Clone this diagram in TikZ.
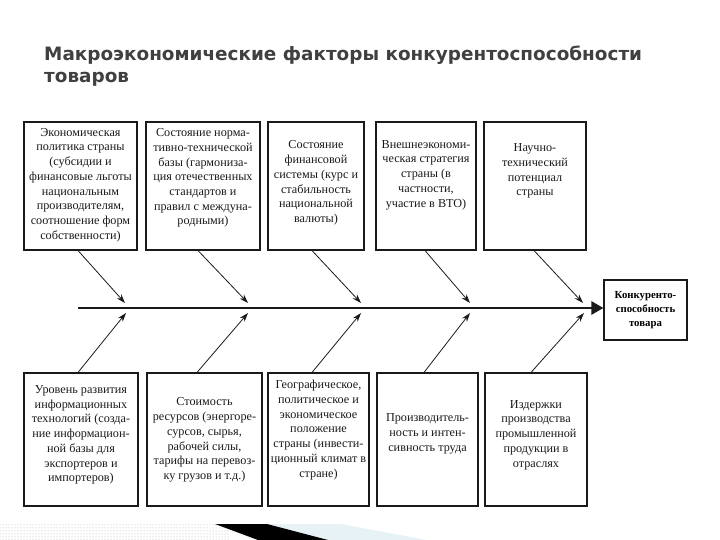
\documentclass[tikz,border=0pt]{standalone}
\usepackage{fontspec}
\setmainfont{Liberation Serif}
\newfontfamily\titlefont{DejaVu Sans}
\usetikzlibrary{arrows.meta,patterns}
\definecolor{titlegray}{HTML}{404040}
\definecolor{lineblk}{HTML}{1A1A1A}
\definecolor{decoblue}{HTML}{E6F2F6}
\begin{document}
\begin{tikzpicture}[x=1pt,y=-1pt,
  box/.style={draw=lineblk,line width=1.1pt,rectangle,inner sep=0pt},
  txt/.style={align=center,inner sep=0pt,text=lineblk,font=\fontsize{12.2}{14.7}\selectfont},
  br/.style={draw=lineblk,line width=0.8pt,-{Stealth[length=9pt,width=6pt]}},
  spine/.style={draw=lineblk,line width=2.6pt,-{Triangle[length=12pt,width=13pt]}}]
\useasboundingbox (0,0) rectangle (720,540);
% title
\node[anchor=base west,align=left,inner sep=0pt,text=titlegray,
  font=\titlefont\bfseries\fontsize{18.4}{22}\selectfont] (title) at (44,83)
  {Макроэкономические факторы конкурентоспособности\\товаров};
% top boxes
\node[box,minimum width=113pt,minimum height=128pt] (t1) at (80.5,186) {};
\node[box,minimum width=114pt,minimum height=128pt] (t2) at (203,186) {};
\node[box,minimum width=96pt,minimum height=128pt] (t3) at (316,186) {};
\node[box,minimum width=100pt,minimum height=128pt] (t4) at (426,186) {};
\node[box,minimum width=102pt,minimum height=128pt] (t5) at (535,186) {};
\node[txt] (t1t) at (80.5,185) {Экономическая\\политика страны\\(субсидии и\\финансовые льготы\\национальным\\производителям,\\соотношение форм\\собственности)};
\node[txt] (t2t) at (203,178) {Состояние норма-\\тивно-технической\\базы (гармониза-\\ция отечественных\\стандартов и\\правил с междуна-\\родными)};
\node[txt] (t3t) at (316,183) {Состояние\\финансовой\\системы (курс и\\стабильность\\национальной\\валюты)};
\node[txt] (t4t) at (426,175) {Внешнеэкономи-\\ческая стратегия\\страны (в\\частности,\\участие в ВТО)};
\node[txt] (t5t) at (535,171) {Научно-\\технический\\потенциал\\страны};
% bottom boxes
\node[box,minimum width=114pt,minimum height=133pt] (b1) at (81,439.5) {};
\node[box,minimum width=115pt,minimum height=133pt] (b2) at (204.5,439.5) {};
\node[box,minimum width=101pt,minimum height=133pt] (b3) at (318.5,439.5) {};
\node[box,minimum width=101pt,minimum height=133pt] (b4) at (427.5,439.5) {};
\node[box,minimum width=102pt,minimum height=133pt] (b5) at (536,439.5) {};
\node[txt] (b1t) at (81,435) {Уровень развития\\информационных\\технологий (созда-\\ние информацион-\\ной базы для\\экспортеров и\\импортеров)};
\node[txt] (b2t) at (204.5,440) {Стоимость\\ресурсов (энергоре-\\сурсов, сырья,\\рабочей силы,\\тарифы на перевоз-\\ку грузов и т.д.)};
\node[txt] (b3t) at (318.5,430) {Географическое,\\политическое и\\экономическое\\положение\\страны (инвести-\\ционный климат в\\стране)};
\node[txt] (b4t) at (427.5,434) {Производитель-\\ность и интен-\\сивность труда};
\node[txt] (b5t) at (536,435) {Издержки\\производства\\промышленной\\продукции в\\отраслях};
% result
\node[box,minimum width=83pt,minimum height=60pt,align=center,
  font=\bfseries\fontsize{10.8}{13.8}\selectfont] (res) at (645.5,310)
  {Конкуренто-\\способность\\товара};
% spine
\coordinate (sp0) at (78,308);
\draw[spine] (sp0) -- (res.west |- sp0);
% branch ends
\coordinate (a1) at (125,303);
\coordinate (a2) at (248,303);
\coordinate (a3) at (361,303);
\coordinate (a4) at (470,303);
\coordinate (a5) at (583,303);
\coordinate (c1) at (126,313);
\coordinate (c2) at (248,313);
\coordinate (c3) at (361,313);
\coordinate (c4) at (470,313);
\coordinate (c5) at (584,313);
\draw[br] ([xshift=-2.5pt]t1.south) -- (a1);
\draw[br] ([xshift=-5pt]t2.south) -- (a2);
\draw[br] ([xshift=-4pt]t3.south) -- (a3);
\draw[br] ([xshift=-1pt]t4.south) -- (a4);
\draw[br] ([xshift=-1pt]t5.south) -- (a5);
\draw[br] ([xshift=-3pt]b1.north) -- (c1);
\draw[br] ([xshift=-7.5pt]b2.north) -- (c2);
\draw[br] ([xshift=-6.5pt]b3.north) -- (c3);
\draw[br] ([xshift=-3.5pt]b4.north) -- (c4);
\draw[br] ([xshift=-5pt]b5.north) -- (c5);
% slide decoration
\fill[pattern=dots,pattern color=gray!60] (0,523) rectangle (230,540);
\fill[decoblue] (267,524) -- (341,524) -- (427,540) -- (328,540) -- cycle;
\fill[black] (215,524) -- (267,524) -- (328,540) -- (258,540) -- cycle;
\end{tikzpicture}
\end{document}
